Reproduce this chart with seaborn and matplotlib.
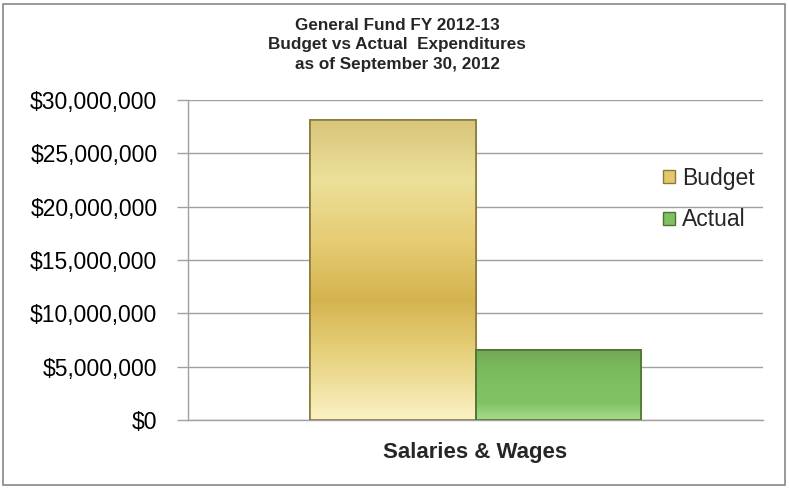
import pandas as pd
import numpy as np
import matplotlib.pyplot as plt
import seaborn as sns
from matplotlib.patches import Rectangle
from matplotlib.colors import LinearSegmentedColormap
from matplotlib.ticker import FuncFormatter

categories = ["Salaries & Wages"]
series = ["Budget", "Actual"]
values = [28100000, 6550000]
title_lines = ["General Fund FY 2012-13", "Budget vs Actual  Expenditures", "as of September 30, 2012"]

sns.set_style("white")
plt.rcParams['font.family'] = ['Liberation Sans', 'DejaVu Sans']

df = pd.DataFrame({"category": categories * len(series), "series": series, "value": values})

fig = plt.figure(figsize=(7.89, 4.88), dpi=100)
ax = fig.add_axes([188 / 789, 68 / 488, 575 / 789, 320 / 488])

colors = {"Budget": "#E3C96C", "Actual": "#7FC063"}
edges = {"Budget": "#8A7A3C", "Actual": "#4A7430"}
# vertical shading (bottom -> top) to mimic the bevelled bars
shades = {"Budget": ["#FBF1C4", "#E9D482", "#D5B44F", "#E6CC74", "#EDE09A", "#D8C67A"],
          "Actual": ["#A8DC8A", "#80C264", "#7EC062", "#7BB95E", "#72A956"]}
sns.barplot(data=df, x="category", y="value", hue="series", palette=colors,
            saturation=1, width=0.574, ax=ax, legend=False, zorder=3)

for bar, s in zip(ax.patches, series):
    bar.set_edgecolor(edges[s])
    bar.set_linewidth(1.2)
    x0, y0, w, h = bar.get_x(), bar.get_y(), bar.get_width(), bar.get_height()
    cmap = LinearSegmentedColormap.from_list(s, shades[s])
    grad = np.linspace(0, 1, 256).reshape(-1, 1)
    im = ax.imshow(grad, cmap=cmap, origin="lower", aspect="auto",
                   extent=[x0, x0 + w, y0, y0 + h], zorder=3.5)
    im.set_clip_path(bar)
    ax.add_patch(Rectangle((x0, y0), w, h, fill=False, edgecolor=edges[s], linewidth=1.2, zorder=4))

ax.set_ylim(0, 30000000)
ax.set_xlim(-0.5, 0.5)
ax.set_yticks(np.arange(0, 30000001, 5000000))
ax.yaxis.set_major_formatter(FuncFormatter(lambda v, p: "${:,.0f}".format(v)))
ax.yaxis.grid(True, color="#A0A0A0", linewidth=1)
ax.set_axisbelow(True)
ax.tick_params(axis="y", labelsize=16.5, colors="#A0A0A0", labelcolor="black",
               length=8, width=1, direction="out", left=True, pad=14)
ax.tick_params(axis="x", length=0, labelsize=16, pad=16)
for lab in ax.get_xticklabels():
    lab.set_fontweight("bold")
ax.set_xlabel("")
ax.set_ylabel("")
for side in ["top", "right"]:
    ax.spines[side].set_visible(False)
for side in ["left", "bottom"]:
    ax.spines[side].set_color("#A0A0A0")
    ax.spines[side].set_linewidth(1)

handles = [Rectangle((0, 0), 1, 1, facecolor=colors[s], edgecolor=edges[s]) for s in series]
fig.legend(handles, series, loc="center left", bbox_to_anchor=(652 / 789, 1 - 199 / 488),
           frameon=False, fontsize=16.5, handlelength=0.5, handleheight=0.5,
           handletextpad=0.3, labelspacing=0.8, borderpad=0)

fig.text(397 / 789, 1 - 45 / 488, "\n".join(title_lines), ha="center", va="center",
         fontsize=12.3, fontweight="bold", linespacing=1.38)

fig.patches.append(Rectangle((3 / 789, 3 / 488), 782 / 789, 481 / 488, transform=fig.transFigure,
                             fill=False, edgecolor="#888888", linewidth=1.2))

plt.savefig("out.png", dpi=100)
